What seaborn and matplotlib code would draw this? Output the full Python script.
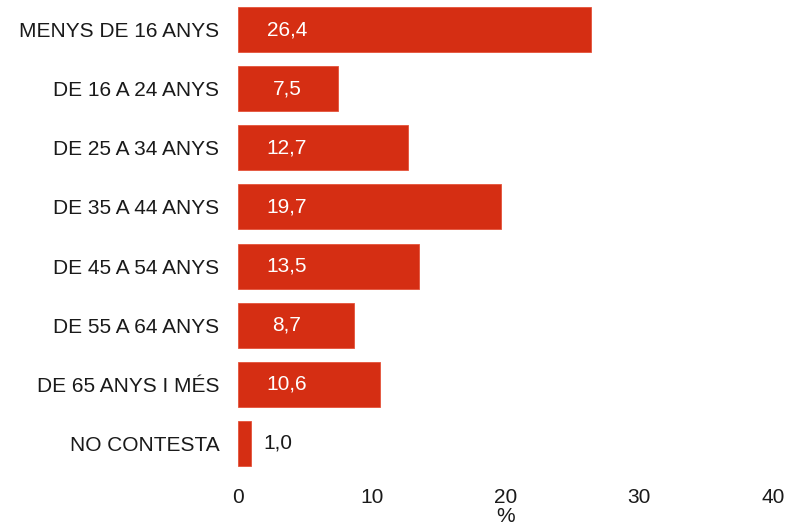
import matplotlib
matplotlib.use("Agg")
import matplotlib.pyplot as plt
import seaborn as sns
import pandas as pd

categories = ["MENYS DE 16 ANYS", "DE 16 A 24 ANYS", "DE 25 A 34 ANYS", "DE 35 A 44 ANYS",
              "DE 45 A 54 ANYS", "DE 55 A 64 ANYS", "DE 65 ANYS I MÉS", "NO CONTESTA"]
values = [26.4, 7.5, 12.7, 19.7, 13.5, 8.7, 10.6, 1.0]
x_ticks = [0, 10, 20, 30, 40]

sns.set_theme(style="white")
plt.rcParams['font.family'] = ['Liberation Sans', 'DejaVu Sans']

df = pd.DataFrame({"cat": categories, "val": values})

fig = plt.figure(figsize=(7.88, 5.27), dpi=100)
ax = fig.add_axes([238/788, 1 - 473/527, (773-238)/788, 473/527])

sns.barplot(data=df, x="val", y="cat", orient="h", color="#D52E13", saturation=1,
            width=0.76, ax=ax, edgecolor="#E5533A", linewidth=0.6)

for i, v in enumerate(values):
    label = f"{v:.1f}".replace(".", ",")
    if v > 5:
        ax.text(3.65, i, label, ha="center", va="center", color="white", fontsize=15)
    else:
        ax.text(v + 1.95, i, label, ha="center", va="center", color="#1a1a1a", fontsize=15)

ax.set_xlim(0, 40)
ax.set_ylim(7.5, -0.5)
ax.set_xticks(x_ticks)
ax.set_xticklabels([str(t) for t in x_ticks], fontsize=15, color="#1a1a1a")
ax.tick_params(axis="y", labelsize=15, labelcolor="#1a1a1a", pad=13.5, length=0)
ax.tick_params(axis="x", length=0, pad=11)
ax.set_ylabel("")
ax.set_xlabel("%", fontsize=15, color="#1a1a1a", labelpad=0)
for s in ax.spines.values():
    s.set_visible(False)
ax.grid(False)

fig.savefig("out.png", dpi=100)
